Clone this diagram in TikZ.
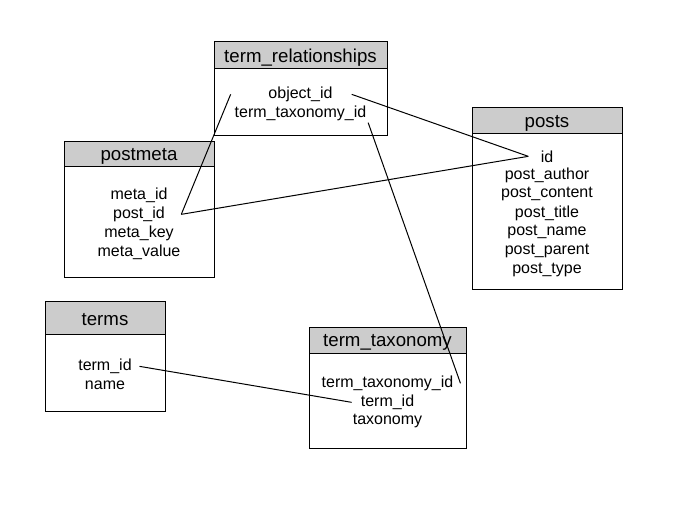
\documentclass[tikz,border=0pt]{standalone}
\usepackage{fontspec}
\setmainfont{Liberation Sans}
\usetikzlibrary{positioning}
\definecolor{hdgray}{RGB}{204,204,204}

\begin{document}
\begin{tikzpicture}[x=0.75pt,y=-0.75pt,line width=0.75pt,
hd/.style={draw,fill=hdgray},
ttl/.style={font=\fontsize{14}{16}\selectfont,inner sep=0pt,yshift=-2pt},
fld/.style={font=\fontsize{12}{14}\selectfont,inner sep=1pt,yshift=-1pt}]
\useasboundingbox (0,0) rectangle (692,515);
% term_relationships
\draw[hd] (214,41) rectangle (387,68);
\draw (214,68) rectangle (387,135);
\node[ttl] (trel) at (300.5,55) {term\_relationships};
\foreach \f [count=\i] in %
{object\_id,term\_taxonomy\_id} {
   \node[fld] (trel\i) at (300.5,74+19*\i) {\f};
}
% postmeta
\draw[hd] (64,141) rectangle (214,166);
\draw (64,166) rectangle (214,277);
\node[ttl] (pmeta) at (139,154) {postmeta};
\foreach \f [count=\i] in %
{meta\_id,post\_id,meta\_key,meta\_value} {
   \node[fld] (pmeta\i) at (139,175+19*\i) {\f};
}
% posts
\draw[hd] (472,107) rectangle (622,133);
\draw (472,133) rectangle (622,289);
\node[ttl] (posts) at (547,120.5) {posts};
\foreach \f [count=\i] in %
{id,post\_author,post\_content,post\_title,post\_name,post\_parent,post\_type} {
   \node[fld] (posts\i) at (547,136+19*\i) {\f};
}
% terms
\draw[hd] (45,301) rectangle (165,334);
\draw (45,334) rectangle (165,411);
\node[ttl] (terms) at (105,317) {terms};
\foreach \f [count=\i] in %
{term\_id,name} {
   \node[fld] (terms\i) at (105,346+19*\i) {\f};
}
% term_taxonomy
\draw[hd] (309,327) rectangle (466,353);
\draw (309,353) rectangle (466,448);
\node[ttl] (ttax) at (387.5,340) {term\_taxonomy};
\foreach \f [count=\i] in %
{term\_taxonomy\_id,term\_id,taxonomy} {
   \node[fld] (ttax\i) at (387.5,363+19*\i) {\f};
}
% links
\coordinate[left=27pt of trel1.west] (objL);
\coordinate[right=13pt of trel1.east] (objR);
\coordinate[right=11pt of pmeta2.east] (pidR);
\coordinate[left=8pt of posts1.west] (idL);
\coordinate[right=4pt of ttax1.east] (ttidR);
\coordinate[right=4.5pt of terms1.east] (tidR);
\coordinate[left=5.5pt of ttax2.west] (tidL);
\draw (objL) -- (pidR);
\draw (pidR) -- (idL);
\draw (objR) -- (idL);
\draw (trel2.south east) -- (ttidR);
\draw (tidR) -- (tidL);
\end{tikzpicture}
\end{document}
